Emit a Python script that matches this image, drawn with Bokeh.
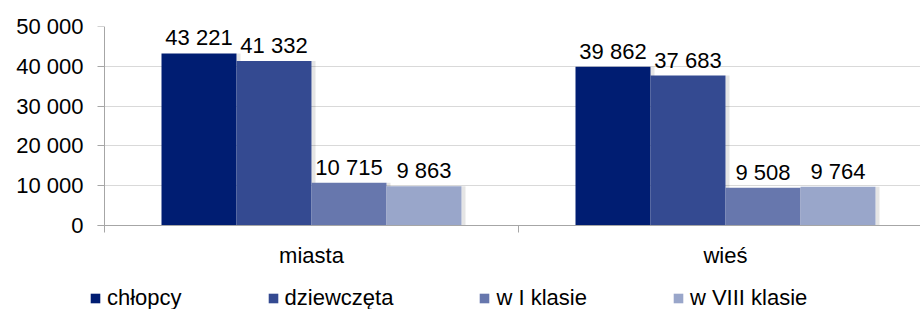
from bokeh.plotting import figure
from bokeh.layouts import column
from bokeh.models import (Range1d, FixedTicker, Legend, LegendItem, ColumnDataSource,
                          LinearAxis)
from bokeh.core.properties import value
from bokeh.embed import file_html
from bokeh.resources import INLINE

categories = ["miasta", "wieś"]
series_names = ["chłopcy", "dziewczęta", "w I klasie", "w VIII klasie"]
chlopcy = [43221, 39862]
dziewczeta = [41332, 37683]
w_i_klasie = [10715, 9508]
w_viii_klasie = [9863, 9764]
y_ticks = [0, 10000, 20000, 30000, 40000, 50000]
y_tick_labels = ["0", "10 000", "20 000", "30 000", "40 000", "50 000"]

series_values = [chlopcy, dziewczeta, w_i_klasie, w_viii_klasie]
colors = ["#001D72", "#344A91", "#6777AD", "#99A6CA"]

FONT = "Liberation Sans"
FS = "22px"
AXIS_COLOR = "#A6A6A6"

W = 920
H1, H2 = 280, 29
frame_left = 89      # frame starts where the legend starts
axis_px = 104        # y axis line position
top = 26
bottom = H1 - 225
cat_px = 414.0
x0 = -(axis_px - frame_left) / cat_px
x1 = (W - axis_px) / cat_px
p = figure(width=W, height=H1, output_backend="svg", toolbar_location=None,
           x_range=Range1d(x0, x1), y_range=Range1d(0, 50000),
           min_border_left=frame_left, min_border_right=0, min_border_top=top,
           min_border_bottom=bottom)
p.outline_line_color = None
p.background_fill_color = "white"
p.border_fill_color = "white"

bw = 75.0 / cat_px
for i, (name, vals, col) in enumerate(zip(series_names, series_values, colors)):
    xs = [c + 0.5 + (i - 1.5) * bw for c in range(len(categories))]
    src = ColumnDataSource(dict(x=xs, top=vals,
                                xr=[x + bw / 2 for x in xs],
                                xs2=[x + bw / 2 + 4.0 / cat_px for x in xs],
                                lab=[f"{v:,}".replace(",", " ") for v in vals]))
    # soft shadow on the right side
    p.quad(left="xr", right="xs2", bottom=0, top="top", source=src,
           fill_color="#000000", fill_alpha=0.10, line_color=None)
    p.vbar(x="x", top="top", width=bw, bottom=0, source=src,
           fill_color=col, line_color=None)
    p.text(x="x", y="top", text="lab", source=src, text_align="center",
           text_baseline="bottom", y_offset=-3,
           text_font=value(FONT), text_font_size=FS, text_color="#000000")

tick_start = -7.0 / cat_px

# y axis labels (left panel, at the frame edge)
p.yaxis.ticker = FixedTicker(ticks=y_ticks)
p.yaxis.major_label_overrides = {t: l for t, l in zip(y_ticks, y_tick_labels)}
p.yaxis.major_label_text_font = FONT
p.yaxis.major_label_text_font_size = FS
p.yaxis.major_label_text_color = "#000000"
p.yaxis.axis_line_color = None
p.yaxis.major_tick_line_color = None
p.yaxis.major_tick_out = 0
p.yaxis.major_tick_in = 0
p.yaxis.minor_tick_line_color = None
p.yaxis.major_label_standoff = 6

# y axis line and ticks (no labels), drawn at data x = 0
yline = LinearAxis(fixed_location=0, ticker=FixedTicker(ticks=y_ticks),
                   major_label_overrides={t: "" for t in y_ticks},
                   axis_line_color=AXIS_COLOR, major_tick_line_color=AXIS_COLOR,
                   major_tick_out=7, major_tick_in=0, minor_tick_line_color=None,
                   major_label_standoff=0)
p.add_layout(yline, "left")

p.ygrid.grid_line_color = "#D9D9D9"
p.ygrid.ticker = FixedTicker(ticks=y_ticks)
p.ygrid.cross_bounds = (0, x1)

# x axis
centers = [c + 0.5 for c in range(len(categories))]
p.xaxis.bounds = (tick_start, x1)
p.xaxis.ticker = FixedTicker(ticks=centers, minor_ticks=[0, 1, 2])
p.xaxis.major_label_overrides = {c: l for c, l in zip(centers, categories)}
p.xaxis.major_label_text_font = FONT
p.xaxis.major_label_text_font_size = FS
p.xaxis.major_label_text_color = "#000000"
p.xaxis.axis_line_color = AXIS_COLOR
p.xaxis.major_tick_line_color = None
p.xaxis.major_tick_out = 0
p.xaxis.major_tick_in = 0
p.xaxis.minor_tick_line_color = AXIS_COLOR
p.xaxis.minor_tick_out = 7
p.xaxis.minor_tick_in = 0
p.xaxis.major_label_standoff = 10
p.xgrid.grid_line_color = None

# legend strip
p2 = figure(width=W, height=H2, output_backend="svg", toolbar_location=None,
            x_range=Range1d(0, 1), y_range=Range1d(0, 1), min_border=0,
            x_axis_type=None, y_axis_type=None)
p2.grid.visible = False
p2.outline_line_color = None
items = []
for name, col in zip(series_names, colors):
    # zero-height proxy bar: invisible in the strip, drawn as a swatch in the legend
    r = p2.vbar(x=[0], top=[0], bottom=0, width=0.01, fill_color=col, line_color=None)
    items.append(LegendItem(label=name, renderers=[r]))
legend = Legend(items=items, orientation="horizontal", location=(0, -2),
                glyph_width=12, glyph_height=12, label_standoff=6, spacing=85,
                padding=0, margin=0, border_line_color=None,
                background_fill_alpha=0,
                label_text_font=FONT, label_text_font_size=FS,
                label_text_color="#000000")
p2.add_layout(legend, "center")

open("out.html", "w").write(file_html(column(p, p2, spacing=0), INLINE))
